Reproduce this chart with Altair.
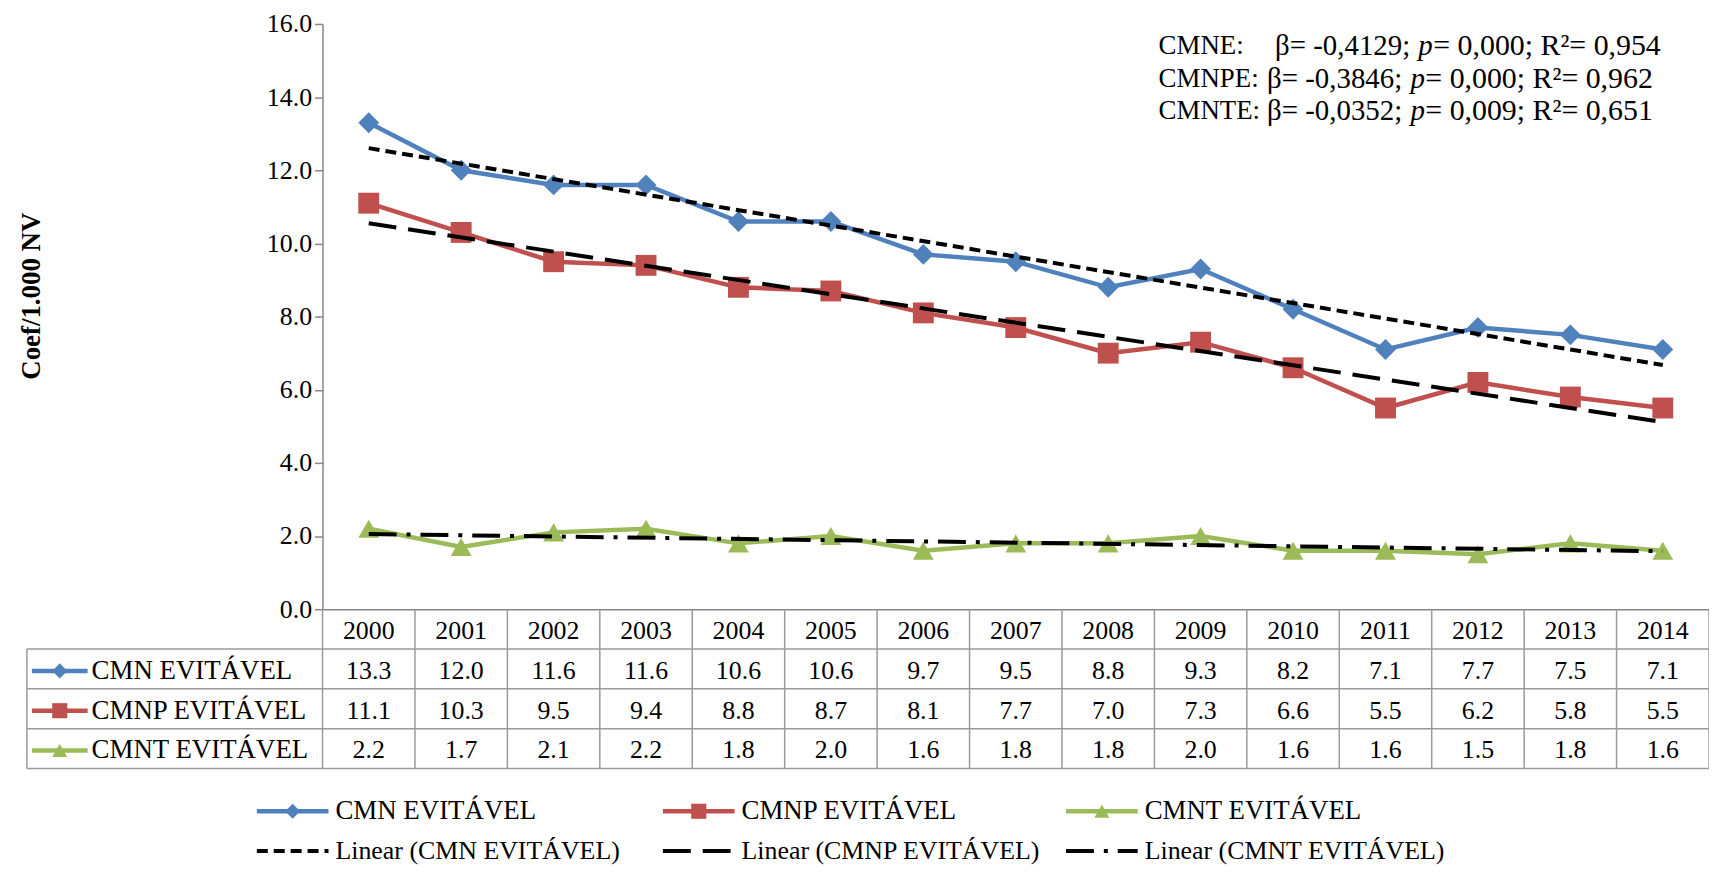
import altair as alt
import pandas as pd

# ---------------- data ----------------
years = list(range(2000, 2015))
series_names = ["CMN EVITÁVEL", "CMNP EVITÁVEL", "CMNT EVITÁVEL"]
cmn = [13.3, 12.0, 11.6, 11.6, 10.6, 10.6, 9.7, 9.5, 8.8, 9.3, 8.2, 7.1, 7.7, 7.5, 7.1]
cmnp = [11.1, 10.3, 9.5, 9.4, 8.8, 8.7, 8.1, 7.7, 7.0, 7.3, 6.6, 5.5, 6.2, 5.8, 5.5]
cmnt = [2.2, 1.7, 2.1, 2.2, 1.8, 2.0, 1.6, 1.8, 1.8, 2.0, 1.6, 1.6, 1.5, 1.8, 1.6]
y_ticks = [0, 2, 4, 6, 8, 10, 12, 14, 16]

ann_labels = ["CMNE:", "CMNPE:", "CMNTE:"]
ann_beta = ["β= -0,4129;", "β= -0,3846;", "β= -0,0352;"]
ann_rest = ["= 0,000; R²= 0,954", "= 0,000; R²= 0,962", "= 0,009; R²= 0,651"]

trend_names = ["Linear (CMN EVITÁVEL)", "Linear (CMNP EVITÁVEL)", "Linear (CMNT EVITÁVEL)"]

# ---------------- styles ----------------
FONT = "Liberation Serif"
FS = 26
colors = ["#4F81BD", "#C0504D", "#9BBB59"]
shapes = ["diamond", "square", "triangle-up"]
dashes = [[11, 6], [28, 12], [28, 10, 4, 10]]
GRID = "#9a9a9a"
AXIS = "#868686"

W, H = 1393, 588

rows = []
for name, vals in zip(series_names, [cmn, cmnp, cmnt]):
    for yr, v in zip(years, vals):
        rows.append({"year": yr, "series": name, "value": v})
df = pd.DataFrame(rows)

x_scale = alt.Scale(domain=[years[0] - 0.5, years[-1] + 0.5], nice=False, zero=False)
y_scale = alt.Scale(domain=[y_ticks[0], y_ticks[-1]], nice=False)
color_scale = alt.Scale(domain=series_names, range=colors)
shape_scale = alt.Scale(domain=series_names, range=shapes)
dash_scale = alt.Scale(domain=series_names, range=dashes)

one = pd.DataFrame({"k": [0]})

base = alt.Chart(df)

x_enc = alt.X("year:Q", scale=x_scale,
              axis=alt.Axis(labels=False, ticks=False, title=None, grid=False,
                            domainColor=AXIS, domainWidth=1.5))
y_enc = alt.Y("value:Q", scale=y_scale,
              axis=alt.Axis(values=y_ticks, format=".1f", grid=False,
                            labelFont=FONT, labelFontSize=FS, labelColor="black",
                            labelPadding=3, tickSize=8, tickColor=AXIS, tickWidth=1.5,
                            domainColor=AXIS, domainWidth=1.5,
                            title="Coef/1.000 NV", titleFont=FONT, titleFontSize=27,
                            titleFontWeight="bold", titleColor="black",
                            titleAngle=270, titleX=-292, titleY=273,
                            titleAlign="center", titleBaseline="middle"))

lines = base.mark_line(strokeWidth=4.5).encode(
    x=x_enc, y=y_enc,
    color=alt.Color("series:N", scale=color_scale, legend=None),
)
points = base.mark_point(filled=True, opacity=1, size=440).encode(
    x="year:Q", y="value:Q",
    color=alt.Color("series:N", scale=color_scale, legend=None),
    shape=alt.Shape("series:N", scale=shape_scale, legend=None),
)
trend = base.transform_regression("year", "value", groupby=["series"],
                                  extent=[years[0], years[-1]]).mark_line(
    color="black", strokeWidth=4).encode(
    x="year:Q", y="value:Q",
    strokeDash=alt.StrokeDash("series:N", scale=dash_scale, legend=None),
    detail="series:N",
)

layers = [lines, points, trend]

# ---------------- data table below the plot ----------------
row_top = [H, H + 40, H + 80, H + 120]      # header + 3 rows
row_bottom = H + 160
row_center = [t + 22 for t in row_top]
left_edge = -297

header = alt.Chart(pd.DataFrame({"year": years})).mark_text(
    font=FONT, fontSize=FS, color="black", baseline="middle").encode(
    x="year:Q", y=alt.value(row_center[0]), text=alt.Text("year:Q", format="d"))
layers.append(header)

for i, name in enumerate(series_names):
    layers.append(
        base.transform_filter(alt.datum.series == name).mark_text(
            font=FONT, fontSize=FS, color="black", baseline="middle").encode(
            x="year:Q", y=alt.value(row_center[i + 1]),
            text=alt.Text("value:Q", format=".1f"))
    )
    # legend key inside the table
    layers.append(alt.Chart(one).mark_rule(color=colors[i], strokeWidth=4.5).encode(
        x=alt.value(-292), x2=alt.value(-236), y=alt.value(row_center[i + 1])))
    layers.append(alt.Chart(one).mark_point(shape=shapes[i], filled=True, opacity=1,
                                            color=colors[i], size=230).encode(
        x=alt.value(-264), y=alt.value(row_center[i + 1])))
    layers.append(alt.Chart(one).mark_text(text=name, font=FONT, fontSize=27, color="black",
                                           align="left", baseline="middle").encode(
        x=alt.value(-232), y=alt.value(row_center[i + 1])))

# grid lines of table
bounds = pd.DataFrame({"b": [y - 0.5 for y in years] + [years[-1] + 0.5]})
layers.append(alt.Chart(bounds).mark_rule(color=GRID, strokeWidth=1.5).encode(
    x="b:Q", y=alt.value(H), y2=alt.value(row_bottom)))
for yy in row_top[1:] + [row_bottom]:
    layers.append(alt.Chart(one).mark_rule(color=GRID, strokeWidth=1.5).encode(
        x=alt.value(left_edge), x2=alt.value(W), y=alt.value(yy)))
layers.append(alt.Chart(one).mark_rule(color=GRID, strokeWidth=1.5).encode(
    x=alt.value(left_edge), y=alt.value(row_top[1]), y2=alt.value(row_bottom)))

# ---------------- bottom legend ----------------
leg_x = [-66, 342, 747]
leg_y = [791, 831]
for i in range(3):
    x0 = leg_x[i]
    # series entry
    layers.append(alt.Chart(one).mark_rule(color=colors[i], strokeWidth=4.5).encode(
        x=alt.value(x0), x2=alt.value(x0 + 72), y=alt.value(leg_y[0])))
    layers.append(alt.Chart(one).mark_point(shape=shapes[i], filled=True, opacity=1,
                                            color=colors[i], size=230).encode(
        x=alt.value(x0 + 36), y=alt.value(leg_y[0])))
    layers.append(alt.Chart(one).mark_text(text=series_names[i], font=FONT, fontSize=27,
                                           color="black", align="left", baseline="middle").encode(
        x=alt.value(x0 + 79), y=alt.value(leg_y[0])))
    # trend entry
    layers.append(alt.Chart(one).mark_rule(color="black", strokeWidth=4,
                                           strokeDash=dashes[i]).encode(
        x=alt.value(x0), x2=alt.value(x0 + 72), y=alt.value(leg_y[1])))
    layers.append(alt.Chart(one).mark_text(text=trend_names[i], font=FONT, fontSize=26,
                                           color="black", align="left", baseline="middle").encode(
        x=alt.value(x0 + 79), y=alt.value(leg_y[1])))

# ---------------- regression annotation ----------------
ann_y = [22, 55, 88]
x_label = 840
x_beta = [957, 949, 949]
x_p = [1101, 1093, 1093]
x_rest = [1116, 1108, 1108]
for i in range(3):
    layers.append(alt.Chart(one).mark_text(text=ann_labels[i], font=FONT, fontSize=27,
                                           color="black", align="left", baseline="middle").encode(
        x=alt.value(x_label), y=alt.value(ann_y[i])))
    layers.append(alt.Chart(one).mark_text(text=ann_beta[i], font=FONT, fontSize=29,
                                           color="black", align="left", baseline="middle").encode(
        x=alt.value(x_beta[i]), y=alt.value(ann_y[i])))
    layers.append(alt.Chart(one).mark_text(text="p", font=FONT, fontSize=29, fontStyle="italic",
                                           color="black", align="left", baseline="middle").encode(
        x=alt.value(x_p[i]), y=alt.value(ann_y[i])))
    layers.append(alt.Chart(one).mark_text(text=ann_rest[i], font=FONT, fontSize=30,
                                           color="black", align="left", baseline="middle").encode(
        x=alt.value(x_rest[i]), y=alt.value(ann_y[i])))

chart = alt.layer(*layers).properties(
    width=W, height=H,
    autosize=alt.AutoSizeParams(type="none"),
    padding={"left": 316, "top": 14, "right": 0, "bottom": 257},
    background="white",
).configure_view(stroke=None)

chart.save("out.html", embed_options={"renderer": "svg", "actions": False})
